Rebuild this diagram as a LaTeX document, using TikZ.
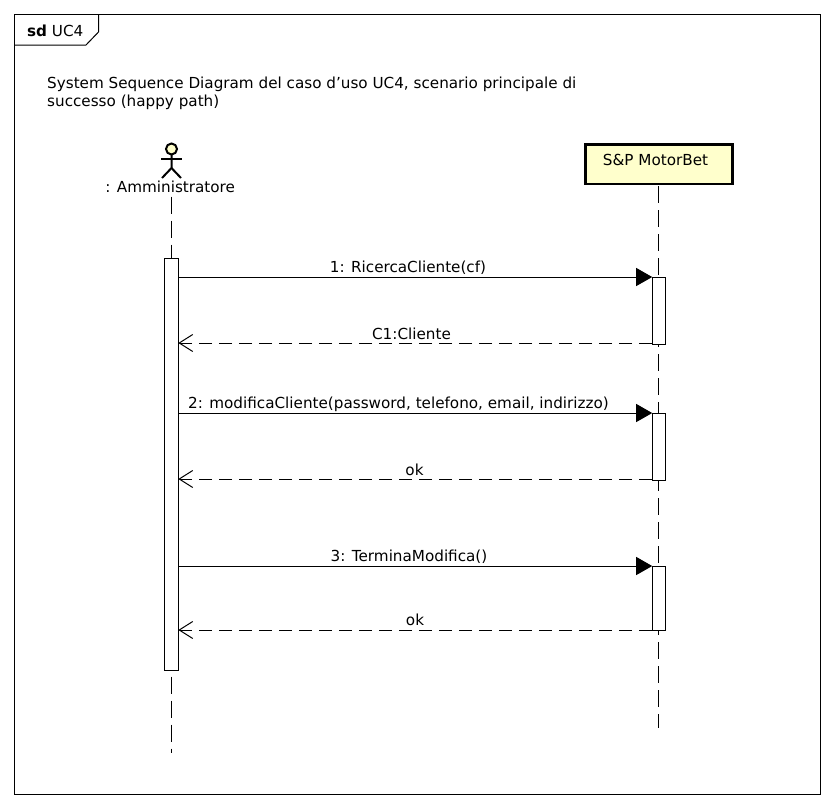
\documentclass[tikz,border=0pt]{standalone}
\usepackage{fontspec}
\setmainfont{DejaVu Sans}
\usetikzlibrary{arrows}
\usetikzlibrary{arrows.meta}
\definecolor{lifeyellow}{RGB}{255,255,204}
\tikzset{
 lifeline/.style={black, line width=1pt, dash pattern=on 17pt off 7pt},
 actbox/.style={draw=black, line width=1pt, fill=white, anchor=north, minimum width=13.6pt, inner sep=0, outer sep=0},
 callmsg/.style={black, line width=1pt, -{Triangle[length=16pt, width=18pt]}},
 retmsg/.style={black, line width=1pt, dash pattern=on 13.3pt off 6.7pt, -{Straight Barb[length=13.5pt, width=17pt, sharp]}},
 msglabel/.style={text=black, font=\fontsize{15.2pt}{18pt}\selectfont, inner sep=0},
}
\begin{document}
\begin{tikzpicture}[x=1pt, y=-1pt]
\useasboundingbox (0,0) rectangle (833,806);
\fill[white] (0,0) rectangle (833,806);
\draw[black, line width=1pt] (14,14) rectangle (820,794);
\draw[black, line width=1pt] (14,45) -- (86,45) -- (98.5,32) -- (98.5,14);
\node[msglabel, anchor=base west] (frametitle) at (27,36) {\textbf{sd} UC4};
\node[msglabel, anchor=base west, align=left] (note) at (47,106.5) {System Sequence Diagram del caso d'uso UC4, scenario principale di\\successo (happy path)};
% actor
\coordinate (head) at (171.5,149);
\draw[black, line width=2pt, fill=lifeyellow] (head) circle (5.5pt);
\draw[black, line width=2pt] (171.5,154.5) -- (171.5,168) -- (162,178);
\draw[black, line width=2pt] (171.5,168) -- (181,178);
\draw[black, line width=2pt] (161,159.3) -- (182,159.3);
\node[msglabel, anchor=base] (actor) at (170.2,192.7) {: Amministratore};
% system
\node[draw=black, line width=2.4pt, fill=lifeyellow, minimum width=147pt, minimum height=39.6pt, inner sep=0, outer sep=0] (system) at (659,164.3) {};
\node[msglabel, anchor=base] (systemname) at (655.5,165) {S\&P MotorBet};
% lifelines
\coordinate (startA) at (171.5,196.5);
\coordinate (endA) at (171.5,753);
\coordinate (startB) at (658.4,186);
\coordinate (endB) at (658.4,727.5);
\draw[lifeline] (startA) -- (endA);
\draw[lifeline] (startB) -- (endB);
\node[actbox, minimum height=411.5pt] (actA) at (171.5,258.5) {};
\foreach \y/\h/\name in {277/67/actB, 413/67/actC, 566/64/actD} {
 \node[actbox, minimum height=\h pt] (\name) at (659,\y) {};
}
% messages
\foreach \name in {actB, actC, actD} {
 \draw[callmsg] (actA.east |- \name.north west) -- (\name.north west);
}
\draw[retmsg] (actB.west |- 0,343) -- (actA.east |- 0,343);
\draw[retmsg] (actC.west |- 0,479) -- (actA.east |- 0,479);
\draw[retmsg] (actD.west |- 0,630) -- (actA.east |- 0,630);
\node[msglabel, anchor=base] (lblB) at (408,272) {1: RicercaCliente(cf)};
\node[msglabel, anchor=base] (retB) at (411.5,339) {C1:Cliente};
\node[msglabel, anchor=base] (lblC) at (398.5,408) {2: modificaCliente(password, telefono, email, indirizzo)};
\node[msglabel, anchor=base] (retC) at (414.5,475) {ok};
\node[msglabel, anchor=base] (lblD) at (409,561) {3: TerminaModifica()};
\node[msglabel, anchor=base] (retD) at (415,625) {ok};
\end{tikzpicture}
\end{document}
